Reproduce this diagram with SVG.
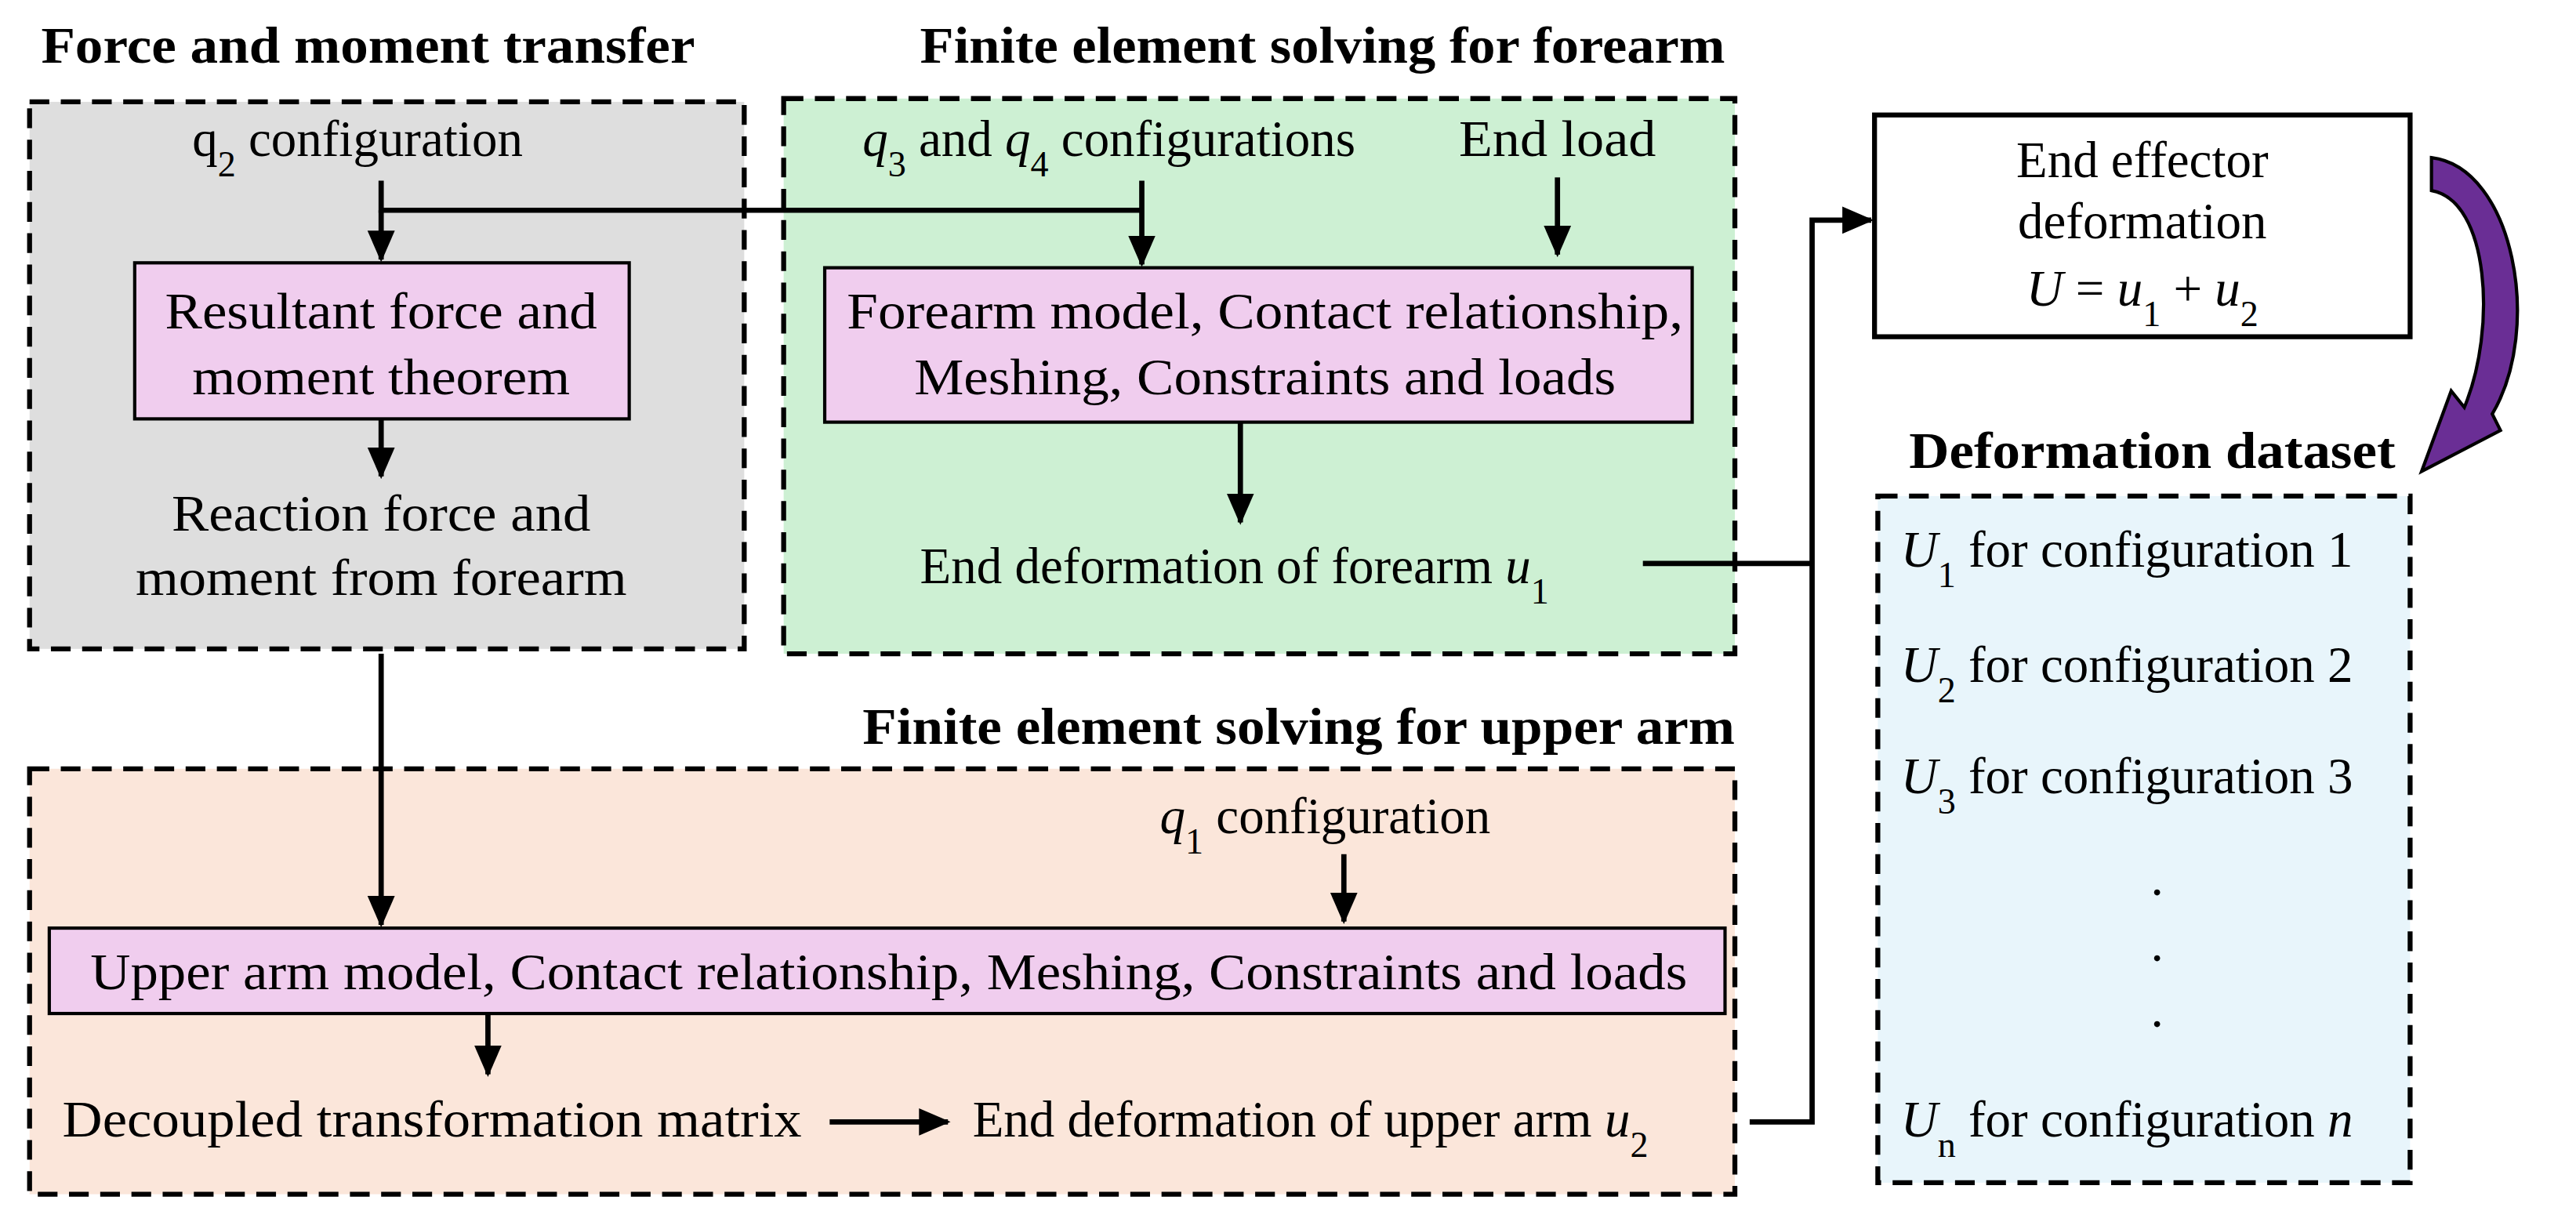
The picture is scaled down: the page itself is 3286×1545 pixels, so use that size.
<svg xmlns="http://www.w3.org/2000/svg" width="3286" height="1545" viewBox="0 0 3286 1545">
<style>
text{font-family:"Liberation Serif","Times New Roman",serif;font-size:31px;fill:#000}
.b{font-weight:bold}
.m{text-anchor:middle}
.i{font-style:italic}
.grp{stroke:#000;stroke-width:3;stroke-dasharray:12 7}
.pk{fill:#f0cdee;stroke:#000;stroke-width:2}
.ln{fill:none;stroke:#000;stroke-width:3.2}
</style>
<defs><marker id="ah" markerWidth="6" markerHeight="6" refX="5.5" refY="3" orient="auto" markerUnits="strokeWidth"><path d="M0,0.4 L6,3 L0,5.6 Z" fill="#000"/></marker></defs>
<rect width="3286" height="1545" fill="#fff"/>
<g transform="scale(2.0957)">
<g id="g-force">
<text class="b" x="25" y="38" textLength="398" lengthAdjust="spacingAndGlyphs">Force and moment transfer</text>
<rect class="grp" x="18" y="62" width="435" height="333" fill="#dedede"/>
<text x="117" y="95">q<tspan baseline-shift="sub" font-size="22" font-style="normal">2</tspan> configuration</text>
</g>
<g id="n-resultant">
<rect class="pk" x="82" y="160" width="301" height="95"/>
<text class="m" x="232" y="200" textLength="263" lengthAdjust="spacingAndGlyphs">Resultant force and</text>
<text class="m" x="232" y="240" textLength="230" lengthAdjust="spacingAndGlyphs">moment theorem</text>
</g>
<g id="n-reaction">
<text class="m" x="232" y="323" textLength="255" lengthAdjust="spacingAndGlyphs">Reaction force and</text>
<text class="m" x="232" y="362" textLength="299" lengthAdjust="spacingAndGlyphs">moment from forearm</text>
</g>
<g id="g-forearm">
<text class="b" x="560" y="38" textLength="490" lengthAdjust="spacingAndGlyphs">Finite element solving for forearm</text>
<rect class="grp" x="477" y="60" width="579" height="338" fill="#cdf0d3"/>
<text x="525" y="95"><tspan class="i">q</tspan><tspan baseline-shift="sub" font-size="22">3</tspan> and <tspan class="i">q</tspan><tspan baseline-shift="sub" font-size="22">4</tspan> configurations</text>
<text class="m" x="948" y="95" textLength="120" lengthAdjust="spacingAndGlyphs">End load</text>
</g>
<g id="n-forearm-model">
<rect class="pk" x="502" y="163" width="528" height="94"/>
<text class="m" x="770" y="200" textLength="509" lengthAdjust="spacingAndGlyphs">Forearm model, Contact relationship,</text>
<text class="m" x="770" y="240" textLength="427" lengthAdjust="spacingAndGlyphs">Meshing, Constraints and loads</text>
</g>
<g id="n-u1">
<text x="560" y="355">End deformation of forearm <tspan class="i">u</tspan><tspan baseline-shift="sub" font-size="22">1</tspan></text>
</g>
<g id="n-effector">
<rect x="1141" y="70" width="326" height="135" fill="#fff" stroke="#000" stroke-width="3"/>
<text class="m" x="1304" y="108">End effector</text>
<text class="m" x="1304" y="145">deformation</text>
<text class="m" x="1304" y="186"><tspan class="i">U</tspan> = <tspan class="i">u</tspan><tspan baseline-shift="sub" font-size="22">1</tspan> + <tspan class="i">u</tspan><tspan baseline-shift="sub" font-size="22">2</tspan></text>
</g>
<g id="g-dataset">
<text class="b m" x="1310" y="285" textLength="296" lengthAdjust="spacingAndGlyphs">Deformation dataset</text>
<rect class="grp" x="1143" y="302" width="324" height="418" fill="#e8f5fb"/>
<text x="1157" y="345"><tspan class="i">U</tspan><tspan baseline-shift="sub" font-size="22">1</tspan> for configuration 1</text>
<text x="1157" y="415"><tspan class="i">U</tspan><tspan baseline-shift="sub" font-size="22">2</tspan> for configuration 2</text>
<text x="1157" y="483"><tspan class="i">U</tspan><tspan baseline-shift="sub" font-size="22">3</tspan> for configuration 3</text>
<text class="m" x="1313" y="545">.</text>
<text class="m" x="1313" y="585">.</text>
<text class="m" x="1313" y="625">.</text>
<text x="1157" y="692"><tspan class="i">U</tspan><tspan baseline-shift="sub" font-size="22">n</tspan> for configuration <tspan class="i">n</tspan></text>
</g>
<g id="g-upper">
<text class="b" x="525" y="453" textLength="531" lengthAdjust="spacingAndGlyphs">Finite element solving for upper arm</text>
<rect class="grp" x="18" y="468" width="1038" height="259" fill="#fbe6da"/>
<text x="706" y="507"><tspan class="i">q</tspan><tspan baseline-shift="sub" font-size="22">1</tspan> configuration</text>
</g>
<g id="n-upper-model">
<rect class="pk" x="30" y="565" width="1020" height="52"/>
<text class="m" x="541" y="602" textLength="972" lengthAdjust="spacingAndGlyphs">Upper arm model, Contact relationship, Meshing, Constraints and loads</text>
</g>
<g id="n-decoupled">
<text x="38" y="692" textLength="450" lengthAdjust="spacingAndGlyphs">Decoupled transformation matrix</text>
</g>
<g id="n-u2">
<text x="592" y="692">End deformation of upper arm <tspan class="i">u</tspan><tspan baseline-shift="sub" font-size="22">2</tspan></text>
</g>
<g id="connectors">
<path class="ln" d="M232,110 V128 H695"/>
<path class="ln" d="M232,128 V158" marker-end="url(#ah)"/>
<path class="ln" d="M695,110 V161" marker-end="url(#ah)"/>
<path class="ln" d="M948,108 V155" marker-end="url(#ah)"/>
<path class="ln" d="M232,255 V290" marker-end="url(#ah)"/>
<path class="ln" d="M755,257 V318" marker-end="url(#ah)"/>
<path class="ln" d="M232,398 V563" marker-end="url(#ah)"/>
<path class="ln" d="M818,520 V561" marker-end="url(#ah)"/>
<path class="ln" d="M297,617 V654" marker-end="url(#ah)"/>
<path class="ln" d="M505,683 H577" marker-end="url(#ah)"/>
<path class="ln" d="M1000,343 H1103"/>
<path class="ln" d="M1065,683 H1103 V134 H1139" marker-end="url(#ah)"/>
<path d="M1480,96 C1530,102 1548,200 1517,252 L1522,262 L1474,287 L1492,238 L1500,248 C1520,200 1515,122 1480,116 Z" fill="#6a2e95" stroke="#000" stroke-width="2"/>
</g>
</g>
</svg>
